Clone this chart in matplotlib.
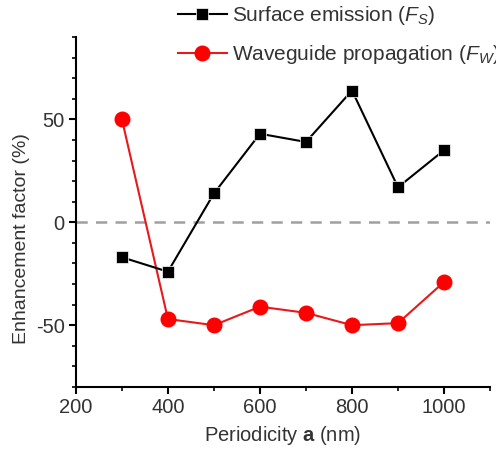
import numpy as np
import matplotlib
matplotlib.use('Agg')
import matplotlib.pyplot as plt
from matplotlib.ticker import MultipleLocator

plt.rcParams['font.family'] = ['Liberation Sans', 'DejaVu Sans']
plt.rcParams['mathtext.fontset'] = 'custom'
plt.rcParams['mathtext.rm'] = 'Liberation Sans'
plt.rcParams['mathtext.it'] = 'Liberation Sans:italic'
plt.rcParams['mathtext.bf'] = 'Liberation Sans:bold'
plt.rcParams['axes.unicode_minus'] = False

periodicity = [300, 400, 500, 600, 700, 800, 900, 1000]
surface_fs = [-17, -24, 14, 43, 39, 64, 17, 35]
waveguide_fw = [50, -47, -50, -41, -44, -50, -49, -29]

TEXT = '#333333'

fig = plt.figure(figsize=(4.96, 4.51), dpi=100)
ax = fig.add_axes([0.153, 0.142, 0.835, 0.776])

ax.axhline(0, color='#a0a0a0', linestyle=(0, (4.5, 3.3)), linewidth=1.8, zorder=1)
l1, = ax.plot(periodicity, surface_fs, color='black', marker='s', markersize=9,
              linewidth=1.5, markeredgecolor='white', markeredgewidth=0.5, zorder=3,
              label=r'Surface emission ($F_S$)')
l2, = ax.plot(periodicity, waveguide_fw, color='#e8191b', marker='o', markersize=10.5,
              linewidth=1.5, markerfacecolor='#ff0000', markeredgecolor='#ff0000', zorder=2,
              label=r'Waveguide propagation ($F_W$)')

ax.set_xlim(200, 1100)
ax.set_ylim(-80, 90)
ax.xaxis.set_major_locator(MultipleLocator(200))
ax.xaxis.set_minor_locator(MultipleLocator(100))
ax.yaxis.set_major_locator(MultipleLocator(50))
ax.yaxis.set_minor_locator(MultipleLocator(10))

for s in ['top', 'right']:
    ax.spines[s].set_visible(False)
for s in ['left', 'bottom']:
    ax.spines[s].set_linewidth(1.5)

ax.tick_params(which='major', direction='out', length=5, width=1.5,
               labelsize=14.5, labelcolor=TEXT, pad=3)
ax.tick_params(which='minor', direction='out', length=3, width=1.2)

ax.set_xlabel(r'Periodicity $\mathbf{a}$ (nm)', fontsize=14.5, color=TEXT, labelpad=5)
ax.set_ylabel('Enhancement factor (%)', fontsize=14, color=TEXT)
ax.yaxis.set_label_coords(-0.11, 0.425)

# legend sits half above the axes and runs off the right edge, as in the original
fig.legend(handles=[l1, l2], loc='center left', bbox_to_anchor=(0.358, 0.922),
           frameon=False, fontsize=15, handlelength=2.35, handletextpad=0.25,
           labelspacing=0.78, labelcolor=TEXT, borderaxespad=0, borderpad=0)

fig.savefig('out.png', dpi=100)
